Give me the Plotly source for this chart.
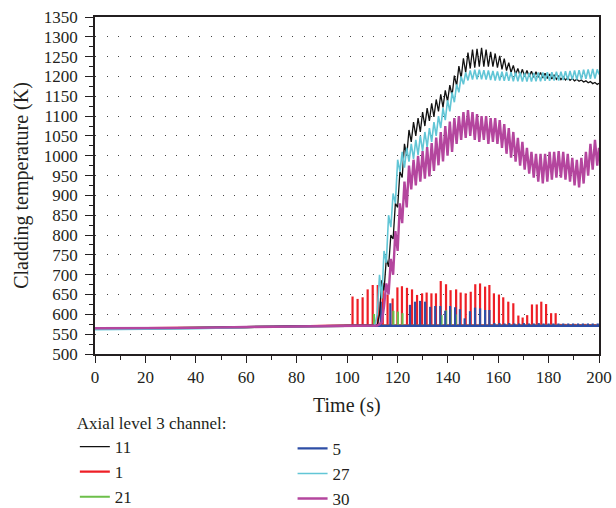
import plotly.graph_objects as go

# ---------------- data ----------------
base_t = [0, 20, 40, 60, 80, 100, 111]
base_black = [563, 564, 566, 568, 570, 572, 572]
base_cyan = [561, 562, 564, 567, 569, 571, 572]
base_magenta = [565, 565, 566, 568, 570, 572, 572]

low_t = [0, 20, 40, 60, 80, 100, 200]
base_red = [564, 565, 566, 568, 570, 572, 572]
base_blue = [563, 564, 566, 568, 570, 571, 571]
base_green = [563, 564, 566, 568, 570, 571, 571]

t_osc = [112.0, 112.9, 113.8, 114.7, 115.6, 116.5, 117.4, 118.3, 119.2, 120.1,
         121.0, 121.9, 122.8, 123.7, 124.6, 125.5, 126.4, 127.3, 128.2, 129.1,
         130.0, 130.9, 131.8, 132.7, 133.6, 134.5, 135.4, 136.3, 137.2, 138.1,
         139.0, 139.9, 140.8, 141.7, 142.6, 143.5, 144.4, 145.3, 146.2, 147.1,
         148.0, 148.9, 149.8, 150.7, 151.6, 152.5, 153.4, 154.3, 155.2, 156.1,
         157.0, 157.9, 158.8, 159.7, 160.6, 161.5, 162.4, 163.3, 164.2, 165.1,
         166.0, 166.9, 167.8, 168.7, 169.6, 170.5, 171.4, 172.3, 173.2, 174.1,
         175.0, 175.9, 176.8, 177.7, 178.6, 179.5, 180.4, 181.3, 182.2, 183.1,
         184.0, 184.9, 185.8, 186.7, 187.6, 188.5, 189.4, 190.3, 191.2, 192.1,
         193.0, 193.9, 194.8, 195.7, 196.6, 197.5, 198.4, 199.3, 200.0]

osc_black = [573, 600, 686, 660, 740, 720, 800, 790, 880, 870,
             960, 945, 1030, 1000, 1065, 1035, 1085, 1050, 1095, 1060,
             1110, 1075, 1120, 1088, 1132, 1098, 1142, 1112, 1155, 1122,
             1165, 1137, 1178, 1152, 1202, 1177, 1226, 1196, 1246, 1210,
             1260, 1220, 1268, 1222, 1270, 1225, 1272, 1225, 1268, 1225,
             1262, 1225, 1258, 1222, 1252, 1218, 1245, 1215, 1235, 1210,
             1228, 1205, 1220, 1202, 1218, 1200, 1215, 1200, 1213, 1198,
             1212, 1198, 1210, 1196, 1208, 1195, 1206, 1194, 1204, 1193,
             1201, 1192, 1199, 1191, 1197, 1190, 1195, 1189, 1193, 1188,
             1191, 1186, 1189, 1184, 1187, 1182, 1185, 1180, 1183]

osc_cyan = [600, 700, 640, 760, 730, 850, 820, 905, 880, 990,
            960, 1010, 970, 1020, 985, 1030, 992, 1040, 1002, 1050,
            1012, 1060, 1022, 1070, 1035, 1085, 1050, 1100, 1070, 1120,
            1090, 1140, 1112, 1160, 1135, 1180, 1160, 1200, 1180, 1210,
            1190, 1215, 1192, 1217, 1193, 1217, 1193, 1216, 1192, 1215,
            1191, 1214, 1190, 1213, 1190, 1212, 1189, 1212, 1189, 1211,
            1188, 1210, 1188, 1210, 1187, 1209, 1187, 1209, 1187, 1209,
            1188, 1210, 1188, 1210, 1189, 1211, 1189, 1211, 1190, 1212,
            1190, 1212, 1191, 1213, 1191, 1214, 1192, 1215, 1192, 1216,
            1193, 1217, 1194, 1218, 1194, 1219, 1195, 1218, 1205]

osc_magenta = [572, 575, 580, 620, 678, 650, 740, 700, 810, 760,
               880, 830, 935, 870, 975, 915, 990, 925, 1000, 935,
               1012, 942, 1022, 948, 1032, 962, 1046, 976, 1060, 986,
               1075, 1000, 1086, 1010, 1095, 1030, 1100, 1040, 1110, 1045,
               1115, 1050, 1110, 1040, 1105, 1035, 1100, 1040, 1100, 1030,
               1095, 1035, 1095, 1030, 1090, 1020, 1080, 1005, 1070, 995,
               1060, 985, 1045, 975, 1035, 965, 1020, 955, 1010, 945,
               1005, 935, 1005, 930, 1005, 935, 1010, 940, 1010, 945,
               1012, 945, 1010, 940, 1005, 935, 995, 925, 990, 920,
               995, 930, 1010, 950, 1030, 965, 1040, 975, 1020]

red_spike_t = [102.2, 104.2, 106.2, 108.2, 110.2, 112.2, 114.2, 116.1, 118.1, 120.0,
               121.8, 123.8, 125.8, 127.8, 129.8, 131.6, 133.5, 135.3, 137.2, 139.3,
               141.1, 143.3, 145.1, 147.1, 149.1, 150.9, 152.8, 154.8, 156.5, 158.3,
               160.3, 162.0, 164.0, 166.0, 168.0, 169.7, 171.5, 173.4, 175.3, 177.1,
               179.0, 181.0, 182.8, 184.8, 186.7, 188.7, 190.6, 192.6, 194.5, 196.5, 198.4]
red_spike_v = [645, 639, 643, 663, 674, 674, 680, 650, 640, 668,
               671, 667, 663, 649, 653, 655, 653, 653, 684, 676,
               661, 663, 655, 653, 657, 676, 678, 670, 674, 653,
               650, 643, 632, 628, 597, 592, 598, 625, 625, 632,
               626, 603, 603, 576, 576, 575, 576, 575, 576, 575, 575]

blue_spike_t = [113.4, 117.2, 125.0, 127.0, 129.0, 131.0, 133.0, 135.0, 137.0, 139.0,
                140.9, 142.9, 144.8, 146.7, 148.8, 150.8, 152.8, 154.8, 156.5, 158.5,
                160.5, 162.5, 164.4, 166.4, 168.3, 170.2, 172.2, 174.1, 176.1, 178.0,
                180.0, 181.9, 183.9, 185.8, 187.8, 189.7, 191.7, 193.6, 195.6, 197.5, 199.5]
blue_spike_v = [632, 628, 624, 632, 634, 632, 619, 621, 621, 609,
                621, 618, 613, 590, 608, 617, 615, 611, 611, 578,
                578, 577, 578, 577, 577, 578, 577, 577, 578, 577,
                577, 577, 577, 577, 577, 577, 577, 577, 577, 577, 577]

green_spike_t = [110.7, 118.4, 120.2, 122.0, 137.5, 139.3, 141.1, 143.2]
green_spike_v = [601, 609, 607, 603, 598, 610, 612, 600]

colors = {"11": "#111111", "1": "#ee1f26", "21": "#6cbf4a",
          "5": "#2e4ea6", "27": "#62c6d6", "30": "#b4469e"}

x_ticks = [0, 20, 40, 60, 80, 100, 120, 140, 160, 180, 200]
y_ticks = list(range(500, 1351, 50))
x_title = "Time (s)"
y_title = "Cladding temperature (K)"
legend_title = "Axial level 3 channel:"


def spiky(bt, bv, st, sv, base):
    xs = list(bt) + [None]
    ys = list(bv) + [None]
    for t, v in zip(st, sv):
        xs += [t, t, None]
        ys += [base, v, None]
    return xs, ys


fig = go.Figure()

rx, ry = spiky(low_t, base_red, red_spike_t, red_spike_v, 571)
bx, by = spiky(low_t, base_blue, blue_spike_t, blue_spike_v, 571)
gx, gy = spiky(low_t, base_green, green_spike_t, green_spike_v, 571)

fig.add_trace(go.Scatter(x=rx, y=ry, mode="lines", name="1", legend="legend",
                         legendrank=2, line=dict(color=colors["1"], width=2.2)))
fig.add_trace(go.Scatter(x=gx, y=gy, mode="lines", name="21", legend="legend",
                         legendrank=3, line=dict(color=colors["21"], width=2.2)))
fig.add_trace(go.Scatter(x=bx, y=by, mode="lines", name="5", legend="legend2",
                         legendrank=1, line=dict(color=colors["5"], width=2.2)))
fig.add_trace(go.Scatter(x=base_t + t_osc, y=base_black + osc_black, mode="lines",
                         name="11", legend="legend", legendrank=1,
                         line=dict(color=colors["11"], width=1.3)))
fig.add_trace(go.Scatter(x=base_t + t_osc, y=base_cyan + osc_cyan, mode="lines",
                         name="27", legend="legend2", legendrank=2,
                         line=dict(color=colors["27"], width=1.6)))
fig.add_trace(go.Scatter(x=base_t + t_osc, y=base_magenta + osc_magenta, mode="lines",
                         name="30", legend="legend2", legendrank=3,
                         line=dict(color=colors["30"], width=2.4)))

axis_col = "#231f20"
leg_common = dict(orientation="v", xref="paper", yref="container",
                  xanchor="left", yanchor="top", font=dict(size=17),
                  bgcolor="rgba(0,0,0,0)", itemwidth=30, tracegroupgap=0)
fig.update_layout(
    width=616, height=508,
    margin=dict(l=95, r=17, t=17, b=154, autoexpand=False),
    paper_bgcolor="white", plot_bgcolor="white",
    font=dict(family="Liberation Serif", size=17, color=axis_col),
    showlegend=True,
    legend=dict(x=-0.04, y=0.199,
                title=dict(text=legend_title, side="top", font=dict(size=17)),
                **leg_common),
    legend2=dict(x=0.392, y=0.152, **leg_common),
    annotations=[dict(text=x_title, xref="paper", yref="paper", x=0.5, y=-0.154,
                      xanchor="center", yanchor="middle", showarrow=False,
                      font=dict(size=20, color=axis_col))],
)
fig.update_xaxes(
    range=[0, 200], tickvals=x_ticks, ticks="outside", ticklen=7, tickwidth=1.3,
    tickcolor=axis_col, minor=dict(ticks="outside", ticklen=4, dtick=10,
                                   tickcolor=axis_col, tickwidth=1.2),
    showline=True, linecolor=axis_col, linewidth=1.5, mirror=True,
    showgrid=False, zeroline=False, ticklabelstandoff=0, automargin=False,
)
fig.update_yaxes(
    range=[500, 1350], tickvals=y_ticks, ticks="outside", ticklen=8, tickwidth=1.3,
    tickcolor=axis_col, minor=dict(ticks="outside", ticklen=4, dtick=25,
                                   tickcolor=axis_col, tickwidth=1.2, showgrid=False),
    showline=True, linecolor=axis_col, linewidth=1.5, mirror=True,
    showgrid=True, gridcolor="#444444", gridwidth=1, griddash="1px,10.6px",
    zeroline=False, ticklabelstandoff=4, automargin=False,
    title=dict(text=y_title, font=dict(size=20), standoff=10),
)

fig.write_html("out.html")
